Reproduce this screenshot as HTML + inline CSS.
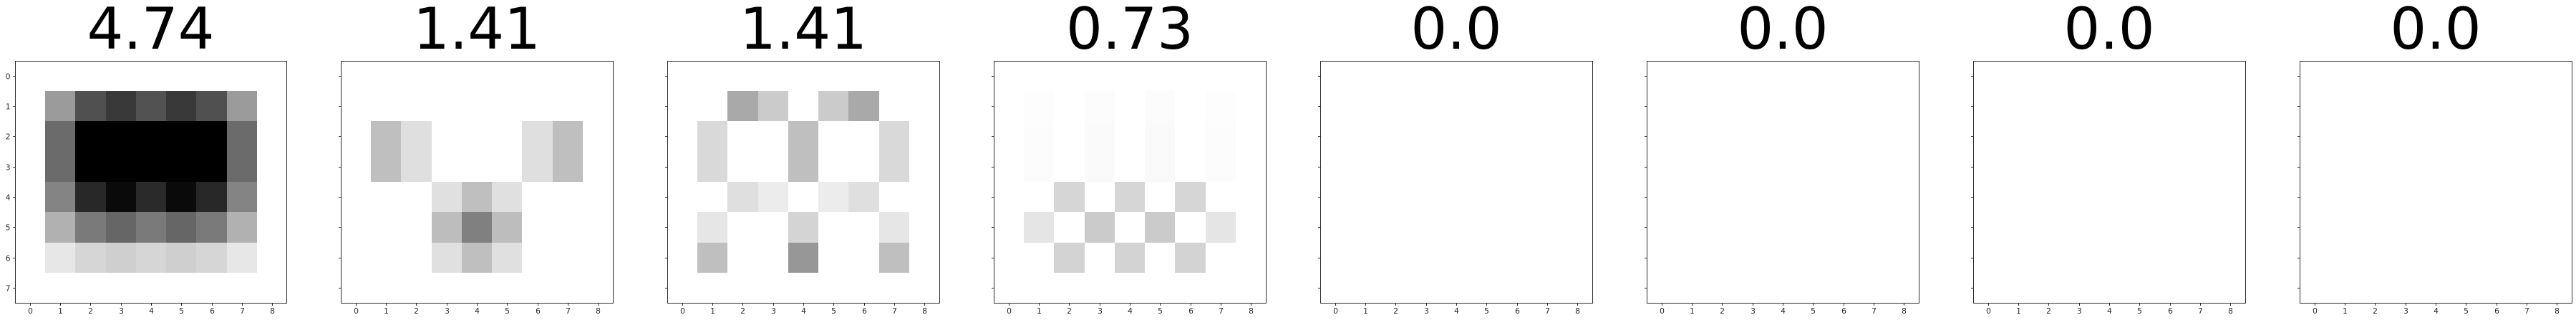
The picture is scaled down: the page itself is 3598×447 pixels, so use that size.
<!DOCTYPE html>
<html lang="en">
<head>
<meta charset="utf-8">
<title>Heatmap panels</title>
<style>
  html, body { margin: 0; padding: 0; background: #fff; }
  body { width: 3598px; height: 447px; overflow: hidden; }
  svg { display: block; }
  text { font-family: "DejaVu Sans", "Liberation Sans", sans-serif; }
  .tick-label { font-size: 10.67px; fill: #262626; }
  .panel-title { font-size: 80px; fill: #000; }
</style>
</head>
<body>
<svg id="chart" xmlns="http://www.w3.org/2000/svg" width="3598" height="447" viewBox="0 0 3598 447"></svg>
<script>
// Printed panel titles
const panelTitles = ['4.74', '1.41', '1.41', '0.73', '0.0', '0.0', '0.0', '0.0'];
// Axis tick labels
const xTickValues = [0, 1, 2, 3, 4, 5, 6, 7, 8];
const yTickValues = [0, 1, 2, 3, 4, 5, 6, 7];

// Cell darkness (0 = white, 255 = black), rows 0-7, columns 0-8
const panel1Values = [
  [0,   0,   0,   0,   0,   0,   0,   0,   0],
  [0, 100, 175, 198, 173, 198, 175, 100,   0],
  [0, 148, 255, 255, 255, 255, 255, 148,   0],
  [0, 148, 255, 255, 255, 255, 255, 148,   0],
  [0, 123, 215, 245, 213, 245, 215, 123,   0],
  [0,  78, 133, 153, 133, 153, 133,  78,   0],
  [0,  24,  41,  48,  41,  48,  41,  24,   0],
  [0,   0,   0,   0,   0,   0,   0,   0,   0]
];
const panel2Values = [
  [0,  0,  0,  0,   0,  0,  0,  0, 0],
  [0,  0,  0,  0,   0,  0,  0,  0, 0],
  [0, 64, 32,  0,   0,  0, 32, 64, 0],
  [0, 64, 32,  0,   0,  0, 32, 64, 0],
  [0,  0,  0, 31,  64, 31,  0,  0, 0],
  [0,  0,  0, 66, 127, 66,  0,  0, 0],
  [0,  0,  0, 31,  64, 31,  0,  0, 0],
  [0,  0,  0,  0,   0,  0,  0,  0, 0]
];
const panel3Values = [
  [0,  0,  0,  0,   0,  0,  0,  0, 0],
  [0,  0, 86, 52,   0, 52, 86,  0, 0],
  [0, 38,  0,  0,  64,  0,  0, 38, 0],
  [0, 38,  0,  0,  64,  0,  0, 38, 0],
  [0,  0, 32, 19,   0, 19, 32,  0, 0],
  [0, 25,  0,  0,  43,  0,  0, 25, 0],
  [0, 64,  0,  0, 104,  0,  0, 64, 0],
  [0,  0,  0,  0,   0,  0,  0,  0, 0]
];
const panel4Values = [
  [0,  0,  0,  0,  0,  0,  0,  0, 0],
  [0,  2,  0,  3,  0,  3,  0,  2, 0],
  [0,  3,  0,  5,  0,  5,  0,  3, 0],
  [0,  3,  0,  5,  0,  5,  0,  3, 0],
  [0,  0, 41,  0, 41,  0, 41,  0, 0],
  [0, 26,  0, 52,  0, 52,  0, 26, 0],
  [0,  0, 44,  0, 44,  0, 44,  0, 0],
  [0,  0,  0,  0,  0,  0,  0,  0, 0]
];
const panel5Values = [
  [0, 0, 0, 0, 0, 0, 0, 0, 0], [0, 0, 0, 0, 0, 0, 0, 0, 0],
  [0, 0, 0, 0, 0, 0, 0, 0, 0], [0, 0, 0, 0, 0, 0, 0, 0, 0],
  [0, 0, 0, 0, 0, 0, 0, 0, 0], [0, 0, 0, 0, 0, 0, 0, 0, 0],
  [0, 0, 0, 0, 0, 0, 0, 0, 0], [0, 0, 0, 0, 0, 0, 0, 0, 0]
];
const panel6Values = [
  [0, 0, 0, 0, 0, 0, 0, 0, 0], [0, 0, 0, 0, 0, 0, 0, 0, 0],
  [0, 0, 0, 0, 0, 0, 0, 0, 0], [0, 0, 0, 0, 0, 0, 0, 0, 0],
  [0, 0, 0, 0, 0, 0, 0, 0, 0], [0, 0, 0, 0, 0, 0, 0, 0, 0],
  [0, 0, 0, 0, 0, 0, 0, 0, 0], [0, 0, 0, 0, 0, 0, 0, 0, 0]
];
const panel7Values = [
  [0, 0, 0, 0, 0, 0, 0, 0, 0], [0, 0, 0, 0, 0, 0, 0, 0, 0],
  [0, 0, 0, 0, 0, 0, 0, 0, 0], [0, 0, 0, 0, 0, 0, 0, 0, 0],
  [0, 0, 0, 0, 0, 0, 0, 0, 0], [0, 0, 0, 0, 0, 0, 0, 0, 0],
  [0, 0, 0, 0, 0, 0, 0, 0, 0], [0, 0, 0, 0, 0, 0, 0, 0, 0]
];
const panel8Values = [
  [0, 0, 0, 0, 0, 0, 0, 0, 0], [0, 0, 0, 0, 0, 0, 0, 0, 0],
  [0, 0, 0, 0, 0, 0, 0, 0, 0], [0, 0, 0, 0, 0, 0, 0, 0, 0],
  [0, 0, 0, 0, 0, 0, 0, 0, 0], [0, 0, 0, 0, 0, 0, 0, 0, 0],
  [0, 0, 0, 0, 0, 0, 0, 0, 0], [0, 0, 0, 0, 0, 0, 0, 0, 0]
];
const panelValues = [panel1Values, panel2Values, panel3Values, panel4Values,
                     panel5Values, panel6Values, panel7Values, panel8Values];

const SVG_NS = 'http://www.w3.org/2000/svg';
const chart = document.getElementById('chart');

const axesSpineLeft = [21, 476, 932, 1388, 1844, 2300, 2756, 3212];
const axesSpineRight = [400, 856, 1312, 1768, 2224, 2680, 3136, 3592];
const axesOriginX = [20.65, 475.65, 931.65, 1387.65, 1843.65, 2299.65, 2755.65, 3211.65];
const SPINE_TOP = 85;
const SPINE_BOTTOM = 423;
const ORIGIN_Y = 84.67;
const UNIT_X = 42.2857;
const UNIT_Y = 42.33;
const TICK_LEN = 3;
const SPINE_COLOR = '#2b2b2b';

function xScale(p, v) { return axesOriginX[p] + (v + 0.5) * UNIT_X; }
function yScale(v) { return ORIGIN_Y + (v + 0.5) * UNIT_Y; }
function darknessToColor(d) {
  const g = 255 - d;
  return 'rgb(' + g + ',' + g + ',' + g + ')';
}
function make(tag, attrs, parent) {
  const el = document.createElementNS(SVG_NS, tag);
  for (const k in attrs) el.setAttribute(k, attrs[k]);
  parent.appendChild(el);
  return el;
}

panelValues.forEach(function (grid, p) {
  const g = make('g', {}, chart);
  
  

  const left = axesSpineLeft[p];
  const right = axesSpineRight[p];

  // Heatmap cells
  grid.forEach(function (row, r) {
    row.forEach(function (value, c) {
      if (value === 0) return;
      const x0 = Math.round(xScale(p, c - 0.5));
      const x1 = Math.round(xScale(p, c + 0.5));
      const y0 = Math.round(yScale(r - 0.5));
      const y1 = Math.round(yScale(r + 0.5));
      const cell = make('rect', { x: x0, y: y0, width: x1 - x0, height: y1 - y0,
        fill: darknessToColor(value), 'shape-rendering': 'crispEdges' }, g);
      
      
    });
  });

  // Frame
  const frame = make('path', {
    d: 'M' + left + ' ' + SPINE_TOP + 'h' + (right - left + 1) + 'v1H' + left + 'z' +
       'M' + left + ' ' + SPINE_BOTTOM + 'h' + (right - left + 1) + 'v1H' + left + 'z' +
       'M' + left + ' ' + SPINE_TOP + 'h1V' + (SPINE_BOTTOM + 1) + 'h-1z' +
       'M' + right + ' ' + SPINE_TOP + 'h1V' + (SPINE_BOTTOM + 1) + 'h-1z',
    fill: SPINE_COLOR, 'shape-rendering': 'crispEdges' }, g);
  
  

  // X ticks
  xTickValues.forEach(function (t) {
    const px = Math.round(xScale(p, t));
    const tick = make('rect', { x: px, y: SPINE_BOTTOM + 1, width: 1, height: TICK_LEN,
      fill: SPINE_COLOR, 'shape-rendering': 'crispEdges' }, g);
    
    
    const label = make('text', { x: px + 0.5, y: 438, 'text-anchor': 'middle', class: 'tick-label' }, g);
    
    
    label.textContent = String(t);
  });

  // Y ticks; only the first panel prints labels
  yTickValues.forEach(function (t) {
    const py = Math.round(yScale(t));
    const tick = make('rect', { x: left - TICK_LEN, y: py, width: TICK_LEN, height: 1,
      fill: SPINE_COLOR, 'shape-rendering': 'crispEdges' }, g);
    
    
    if (p === 0) {
      const label = make('text', { x: left - 6.5, y: py + 4.5, 'text-anchor': 'end', class: 'tick-label' }, g);
      
      
      label.textContent = String(t);
    }
  });

  // Title
  const title = make('text', { x: (left + right) / 2, y: 68, 'text-anchor': 'middle', class: 'panel-title' }, g);
  
  
  title.textContent = panelTitles[p];
});
</script>
</body>
</html>
